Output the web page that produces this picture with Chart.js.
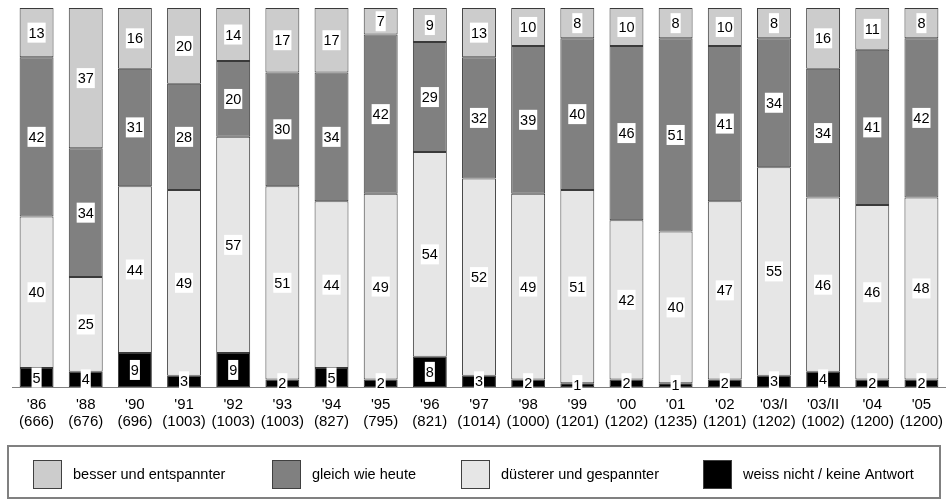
<!DOCTYPE html>
<html>
<head>
<meta charset="utf-8">
<script src="https://cdn.jsdelivr.net/npm/chart.js@4/dist/chart.umd.min.js"></script>
<style>
    html, body { margin: 0; padding: 0; background: #fff; }
    #wrap { position: relative; width: 946px; height: 500px; }
</style>
</head>
<body>
<div id="wrap"><canvas id="chart" width="946" height="500"></canvas></div>
<script>
const jahre = ["'86", "'88", "'90", "'91", "'92", "'93", "'94", "'95", "'96", "'97", "'98", "'99", "'00", "'01", "'02", "'03/I", "'03/II", "'04", "'05"];
const befragte = ['(666)', '(676)', '(696)', '(1003)', '(1003)', '(1003)', '(827)', '(795)', '(821)', '(1014)', '(1000)', '(1201)', '(1202)', '(1235)', '(1201)', '(1202)', '(1002)', '(1200)', '(1200)'];

const weissNicht = [5, 4, 9, 3, 9, 2, 5, 2, 8, 3, 2, 1, 2, 1, 2, 3, 4, 2, 2];
const duesterer = [40, 25, 44, 49, 57, 51, 44, 49, 54, 52, 49, 51, 42, 40, 47, 55, 46, 46, 48];
const gleich = [42, 34, 31, 28, 20, 30, 34, 42, 29, 32, 39, 40, 46, 51, 41, 34, 34, 41, 42];
const besser = [13, 37, 16, 20, 14, 17, 17, 7, 9, 13, 10, 8, 10, 8, 10, 8, 16, 11, 8];

const FONT = 'Arial, "Liberation Sans", sans-serif';
const FS = 14.5;

// Reihenfolge in der Legende
const legende = [
    { text: 'besser und entspannter', farbe: '#cccccc', x: 33 },
    { text: 'gleich wie heute', farbe: '#808080', x: 272 },
    { text: 'düsterer und gespannter', farbe: '#e6e6e6', x: 461 },
    { text: 'weiss nicht / keine Antwort', farbe: '#000000', x: 703 }
];

function balken(label, data, farbe) {
    return {
        label: label,
        data: data,
        backgroundColor: farbe,
        borderColor: '#3a3a3a',
        borderWidth: 1,
        borderSkipped: false,
        barPercentage: 0.69,
        categoryPercentage: 1
    };
}

// Werte in weissen Kästchen mitten im Segment
const wertLabels = {
    id: 'wertLabels',
    afterDatasetsDraw(chart) {
        const ctx = chart.ctx;
        ctx.save();
        ctx.font = FS + 'px ' + FONT;
        ctx.textAlign = 'center';
        ctx.textBaseline = 'middle';
        chart.data.datasets.forEach((ds, i) => {
            chart.getDatasetMeta(i).data.forEach((bar, j) => {
                const txt = String(ds.data[j]);
                const y = (bar.y + bar.base) / 2;
                const w = ctx.measureText(txt).width + 2;
                ctx.fillStyle = '#fff';
                ctx.fillRect(bar.x - w / 2, y - 10, w, 20);
                ctx.fillStyle = '#000';
                ctx.fillText(txt, bar.x, y + 1);
            });
        });
        ctx.restore();
    }
};

const legendeBox = {
    id: 'legendeBox',
    afterDraw(chart) {
        const ctx = chart.ctx;
        ctx.save();
        ctx.strokeStyle = '#808080';
        ctx.lineWidth = 2;
        ctx.strokeRect(8, 446, 932, 52);
        ctx.font = FS + 'px ' + FONT;
        ctx.textBaseline = 'middle';
        legende.forEach(item => {
            ctx.fillStyle = item.farbe;
            ctx.fillRect(item.x, 460, 28, 28);
            ctx.strokeStyle = '#404040';
            ctx.lineWidth = 1;
            ctx.strokeRect(item.x + 0.5, 460.5, 28, 28);
            ctx.fillStyle = '#000';
            ctx.fillText(item.text, item.x + 40, 475);
        });
        ctx.restore();
    }
};

new Chart(document.getElementById('chart'), {
    type: 'bar',
    data: {
        labels: jahre.map((j, i) => [j, befragte[i]]),
        datasets: [
            balken('weiss nicht / keine Antwort', weissNicht, '#000000'),
            balken('düsterer und gespannter', duesterer, '#e6e6e6'),
            balken('gleich wie heute', gleich, '#808080'),
            balken('besser und entspannter', besser, '#cccccc')
        ]
    },
    options: {
        responsive: false,
        animation: false,
        layout: { padding: { top: 8, left: 12, right: 0, bottom: 0 } },
        plugins: { legend: { display: false }, tooltip: { enabled: false } },
        scales: {
            x: {
                stacked: true,
                grid: { display: false },
                border: { color: '#808080', width: 1 },
                ticks: { color: '#000', font: { size: 15, family: FONT, lineHeight: 1.15 }, padding: 1, maxRotation: 0, autoSkip: false },
                afterFit: s => { s.height = 113; }
            },
            y: { stacked: true, display: false, min: 0, max: 100 }
        }
    },
    plugins: [wertLabels, legendeBox]
});
</script>
</body>
</html>
